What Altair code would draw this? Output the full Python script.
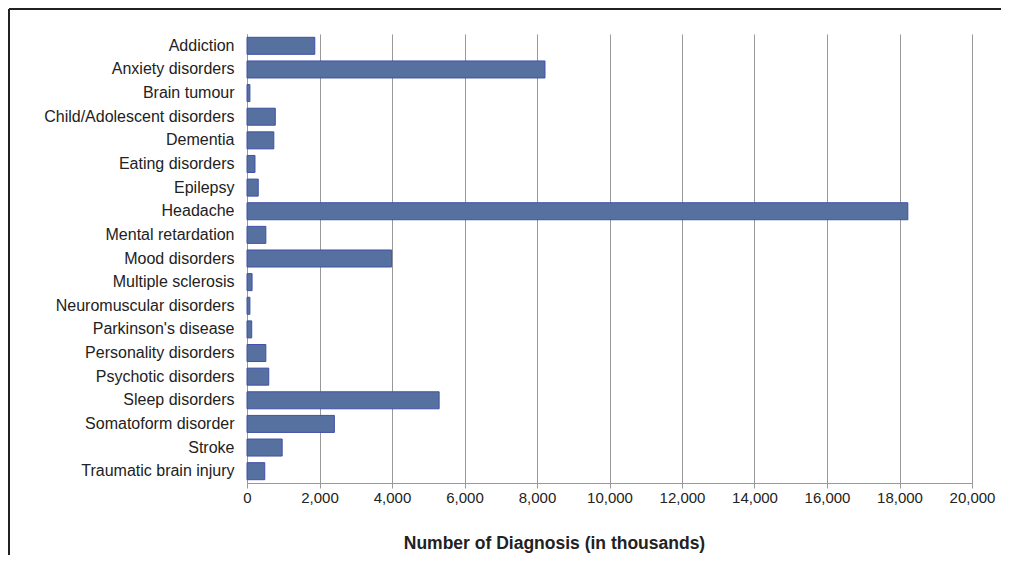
import altair as alt
import pandas as pd

categories = [
    "Addiction", "Anxiety disorders", "Brain tumour", "Child/Adolescent disorders",
    "Dementia", "Eating disorders", "Epilepsy", "Headache", "Mental retardation",
    "Mood disorders", "Multiple sclerosis", "Neuromuscular disorders",
    "Parkinson's disease", "Personality disorders", "Psychotic disorders",
    "Sleep disorders", "Somatoform disorder", "Stroke", "Traumatic brain injury",
]
values = [1870, 8220, 80, 780, 740, 220, 310, 18230, 520, 3990,
          140, 80, 130, 520, 600, 5300, 2410, 970, 490]
x_ticks = list(range(0, 20001, 2000))

df = pd.DataFrame({"category": categories, "value": values})

FONT = "Liberation Sans"

bars = alt.Chart(df).mark_bar(
    color="#5670A0", stroke="#4050A8", strokeWidth=1
).encode(
    y=alt.Y("category:N", sort=categories,
            scale=alt.Scale(paddingInner=0.28, paddingOuter=0.14),
            axis=alt.Axis(title=None, ticks=False, labelPadding=13, labelLimit=400,
                          labelFontSize=16, labelFont=FONT, labelColor="#222222",
                          domainColor="#999999", grid=False)),
    x=alt.X("value:Q", scale=alt.Scale(domain=[0, 20000], nice=False),
            axis=alt.Axis(values=x_ticks, format=",d", labelFlush=False,
                          title="Number of Diagnosis (in thousands)",
                          titleFont=FONT, titleFontSize=17.5, titleFontWeight="bold",
                          titleColor="#222222", titleX=307, titleY=60,
                          titleBaseline="middle", titleAlign="center",
                          labelFontSize=15, labelFont=FONT, labelColor="#222222",
                          labelPadding=2, tickSize=5, tickColor="#999999",
                          domainColor="#999999", grid=True, gridColor="#999999",
                          gridWidth=1)),
)

top_line = alt.Chart(df).mark_rule(color="#222222", strokeWidth=1.5).encode(
    x=alt.value(-238), x2=alt.value(754), y=alt.value(-25)
)
left_line = alt.Chart(df).mark_rule(color="#222222", strokeWidth=1.5).encode(
    x=alt.value(-238), y=alt.value(-25), y2=alt.value(521)
)

chart = alt.layer(bars, top_line, left_line).properties(
    width=725, height=449, padding=0, background="white"
).configure_view(stroke=None)

chart.save("out.html", embed_options={"renderer": "svg", "actions": False})
